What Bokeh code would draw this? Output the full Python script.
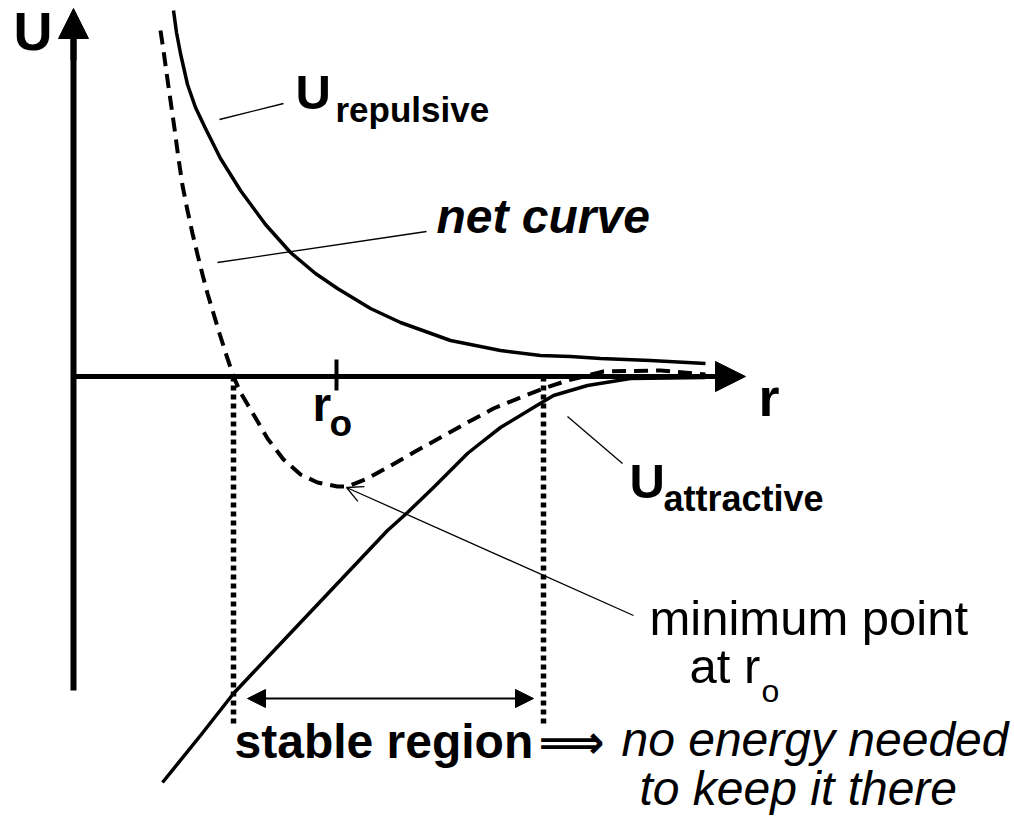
from bokeh.plotting import figure
from bokeh.models import Range1d, Label, Arrow, NormalHead, OpenHead
from bokeh.embed import file_html
from bokeh.resources import INLINE

# ---- data (in picture coordinates) ----
rep_x = [173, 176, 180, 187, 195, 205, 220, 240, 265, 290, 315, 337, 370, 400, 450, 500, 540, 570, 600, 650, 705]
rep_y = [10, 32, 53, 84, 107, 128, 158, 190, 224, 252, 273, 288, 308, 322, 340, 350, 355, 356, 358, 360, 363]

net_x = [160, 163, 166, 170, 174, 178, 182, 187, 192, 197, 202, 207, 213, 219, 226, 233, 240, 253, 267, 283, 300, 317, 337,
         347, 367, 387, 413, 440, 467, 493, 520, 543, 567, 603, 660, 705]
net_y = [30, 50, 72, 100, 128, 158, 185, 210, 233, 254, 274, 293, 313, 333, 355, 376, 392, 414, 438, 459, 474, 482, 486,
         486, 478, 467, 452, 437, 422, 408, 397, 388, 380, 371, 370, 374]

att_x = [162, 200, 233, 283, 335, 387, 407, 433, 467, 477, 500, 533, 553, 587, 630, 705]
att_y = [782, 735, 693, 640, 585, 530, 512, 487, 453, 445, 427, 407, 395, 385, 378, 377]

axis_origin = (73, 376)
y_axis_top = 8
y_axis_bottom = 690
x_axis_end = 745
r0_x = 336
stable_left, stable_right = 233, 543
stable_bottom = 726
stable_arrow_y = 698

FONT = "Liberation Sans"

p = figure(width=1014, height=818, x_range=Range1d(0, 1014), y_range=Range1d(818, 0),
           output_backend="svg", toolbar_location=None, min_border=0,
           background_fill_color="white", border_fill_color="white")
p.axis.visible = False
p.grid.visible = False
p.outline_line_color = None

ox, oy = axis_origin
# axes with arrowheads
p.line([ox, ox], [y_axis_bottom, y_axis_top + 26], line_width=6, line_color="black")
p.add_layout(Arrow(end=NormalHead(size=30, fill_color="black", line_color="black"),
                   x_start=ox, y_start=60, x_end=ox, y_end=y_axis_top,
                   line_width=6, line_color="black"))
p.line([ox, x_axis_end - 26], [oy, oy], line_width=5, line_color="black")
p.add_layout(Arrow(end=NormalHead(size=30, fill_color="black", line_color="black"),
                   x_start=700, y_start=oy, x_end=x_axis_end, y_end=oy,
                   line_width=5, line_color="black"))
# r0 tick
p.line([r0_x, r0_x], [359, 390], line_width=4, line_color="black")

# curves
p.line(rep_x, rep_y, line_width=3.5, line_color="black", line_join="round")
p.line(att_x, att_y, line_width=3.5, line_color="black", line_join="round")
p.line(net_x, net_y, line_width=4, line_color="black", line_dash="14 8")

# dotted verticals
for xv in (stable_left, stable_right):
    p.line([xv, xv], [oy, stable_bottom], line_width=5.5, line_color="black", line_dash="5 4")

# stable region double arrow
p.add_layout(Arrow(start=NormalHead(size=18, fill_color="black", line_color="black"),
                   end=NormalHead(size=18, fill_color="black", line_color="black"),
                   x_start=247, y_start=stable_arrow_y, x_end=533, y_end=stable_arrow_y,
                   line_width=2, line_color="black"))

# leader lines
p.line([219, 283], [119, 103], line_width=1.3, line_color="black")
p.line([217, 426], [262, 231], line_width=1.3, line_color="black")
p.line([567, 622], [416, 463], line_width=1.3, line_color="black")
p.add_layout(Arrow(end=OpenHead(size=16, line_color="black", line_width=1.3),
                   x_start=633, y_start=615, x_end=346, y_end=487,
                   line_width=1.3, line_color="black"))


def lab(x, y, t, size, style="normal", font=FONT):
    # y is the wanted baseline; Bokeh places the text lower by about 0.4 em
    p.add_layout(Label(x=x, y=y - 0.4 * size, text=t, text_font=font, text_font_size=f"{size}px",
                       text_font_style=style, text_color="black",
                       text_baseline="alphabetic", text_align="left"))


lab(13, 52, "U", 54, "bold")
lab(295, 111, "U", 49, "bold")
lab(335, 123, "repulsive", 35, "bold")
lab(436, 235, "net curve", 48, "bold italic")
lab(312, 423, "r", 48, "bold")
lab(329, 438, "o", 37, "bold")
lab(758, 418, "r", 54, "bold")
lab(629, 500, "U", 49, "bold")
lab(663, 512, "attractive", 36, "bold")
lab(649, 637, "minimum point", 49)
lab(689, 685, "at r", 49)
lab(761, 703, "o", 32)
lab(234, 760, "stable region", 48, "bold")
lab(538, 760, "⟹", 46, "bold", "DejaVu Sans")
lab(621, 758, "no energy needed", 48, "italic")
lab(639, 807, "to keep it there", 48, "italic")

open("out.html", "w").write(file_html(p, INLINE))
